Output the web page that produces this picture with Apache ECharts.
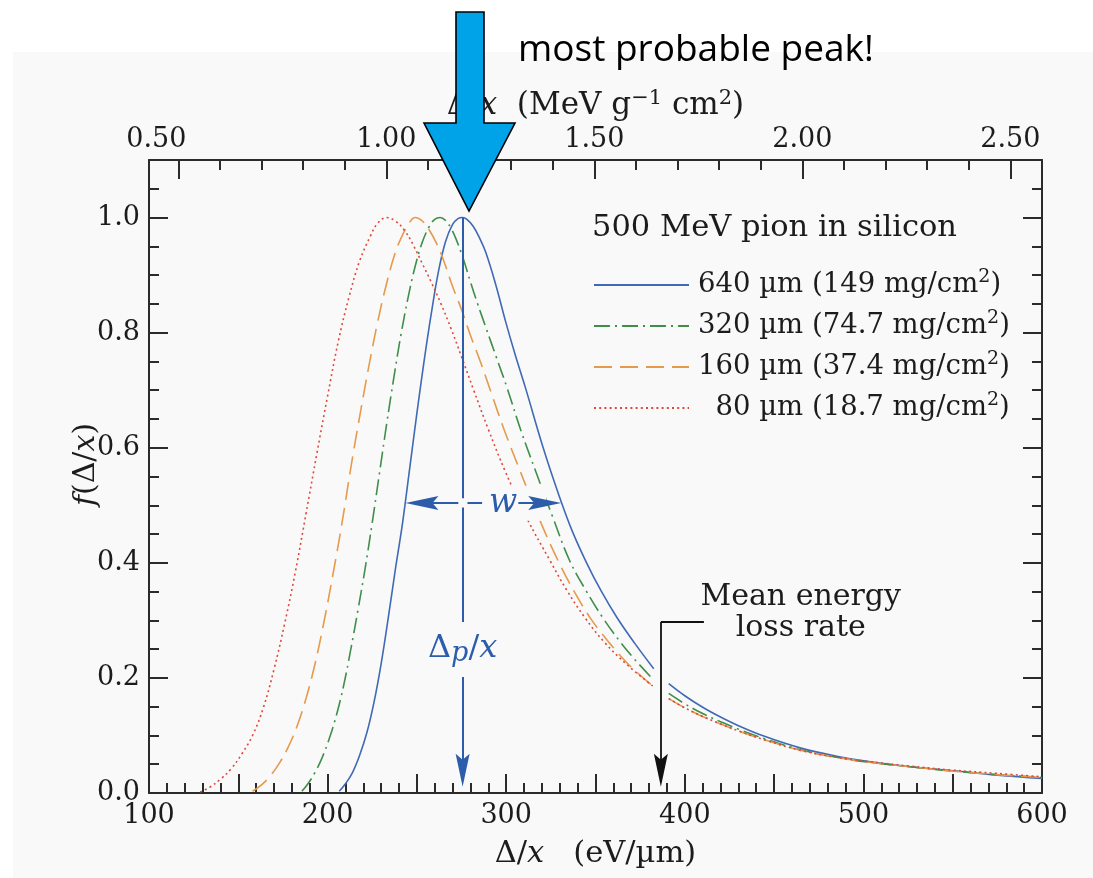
<!DOCTYPE html>
<html>
<head>
<meta charset="utf-8">
<script src="https://cdn.jsdelivr.net/npm/echarts@6/dist/echarts.min.js"></script>
<style>
html,body{margin:0;padding:0;background:#ffffff;}
#chart{width:1093px;height:878px;}
</style>
</head>
<body>
<div id="chart"></div>
<script>
// ---------------- data ----------------
// x: energy loss per unit length, eV/µm ; y: f(Δ/x), normalised to peak = 1
// null marks the break in the curves around the mean-energy-loss arrow
const seriesNames = ['640 µm (149 mg/cm²)', '320 µm (74.7 mg/cm²)', '160 µm (37.4 mg/cm²)', '80 µm (18.7 mg/cm²)'];

const blueX = [206.5, 210, 214, 218, 222, 226, 230, 234, 238, 242, 246, 250, 254, 258, 262, 266, 270, 273, 275.5,
  278, 281.5, 285, 288.5, 294, 299.6, 305, 310.8, 320.7, 329.8, 337, 345, 353, 362, 372, 382.6, 386.6,
  391, 400, 410, 420, 430, 445, 465, 485, 502, 525, 549, 575, 600];
const blueY = [0.003, 0.016, 0.036, 0.066, 0.105, 0.158, 0.225, 0.305, 0.39, 0.47, 0.565, 0.66, 0.75, 0.832, 0.905, 0.958, 0.988, 0.998, 1.0,
  0.997, 0.985, 0.965, 0.94, 0.885, 0.82, 0.762, 0.704, 0.60, 0.515, 0.455, 0.40, 0.352, 0.305, 0.26, 0.216, null,
  0.19, 0.169, 0.149, 0.132, 0.117, 0.098, 0.078, 0.064, 0.055, 0.046, 0.039, 0.031, 0.0254];

const greenX = [185.6, 189, 193, 197, 201, 205, 209, 213, 217, 221, 225, 229, 233, 237, 241, 245, 249, 253, 257, 260, 263,
  266, 269, 272, 276, 280, 284, 288.5, 294.5, 300.5, 308, 316.4, 326, 335.5, 345, 354, 363, 372, 381.8, 386.6,
  391, 400, 410, 420, 430, 445, 465, 485, 502, 525, 549, 575, 600];
const greenY = [0.003, 0.016, 0.036, 0.062, 0.095, 0.136, 0.187, 0.25, 0.318, 0.39, 0.47, 0.555, 0.64, 0.72, 0.795, 0.86, 0.915, 0.957, 0.985, 0.997, 1.0,
  0.995, 0.982, 0.962, 0.928, 0.888, 0.85, 0.81, 0.757, 0.704, 0.632, 0.56, 0.48, 0.404, 0.35, 0.305, 0.266, 0.232, 0.199, null,
  0.173, 0.155, 0.138, 0.124, 0.111, 0.094, 0.075, 0.062, 0.054, 0.046, 0.0385, 0.032, 0.027];

const orangeX = [158, 163, 168, 173, 178, 183, 188, 193, 198, 203, 208, 213, 218, 223, 228, 233, 238, 242, 246, 249,
  253, 257, 261, 265, 270, 275, 280, 285.5, 291.1, 299, 308, 318, 329, 339, 348, 358, 368, 382, 386.6,
  391, 400, 410, 420, 430, 445, 465, 485, 502, 525, 549, 575, 600];
const orangeY = [0.003, 0.014, 0.03, 0.052, 0.08, 0.117, 0.165, 0.225, 0.298, 0.38, 0.468, 0.565, 0.655, 0.74, 0.818, 0.885, 0.94, 0.97, 0.992, 1.0,
  0.994, 0.978, 0.955, 0.925, 0.88, 0.84, 0.795, 0.75, 0.70, 0.63, 0.558, 0.48, 0.404, 0.345, 0.30, 0.26, 0.225, 0.186, null,
  0.164, 0.148, 0.133, 0.12, 0.108, 0.092, 0.074, 0.062, 0.054, 0.046, 0.0385, 0.032, 0.027];

const redX = [128.6, 134, 140, 146, 152, 158, 164, 170, 176, 182, 188, 194, 200, 206, 212, 218, 224, 228, 233,
  238, 243, 248, 253, 258, 263.5, 269, 275, 281.8, 290, 299.6, 312, 324.5, 334, 344, 355, 368, 382, 386.6,
  391, 400, 410, 420, 430, 445, 465, 485, 502, 525, 549, 575, 600];
const redY = [0.002, 0.01, 0.024, 0.042, 0.068, 0.1, 0.148, 0.215, 0.295, 0.385, 0.487, 0.59, 0.69, 0.785, 0.862, 0.925, 0.968, 0.99, 1.0,
  0.994, 0.978, 0.952, 0.92, 0.888, 0.85, 0.808, 0.758, 0.70, 0.632, 0.558, 0.475, 0.404, 0.352, 0.305, 0.262, 0.222, 0.186, null,
  0.164, 0.148, 0.133, 0.12, 0.108, 0.092, 0.074, 0.062, 0.055, 0.047, 0.040, 0.034, 0.0283];

// axis ticks / labels
const bottomLabels = [100, 200, 300, 400, 500, 600];
const yMajorTicks = [0, 0.2, 0.4, 0.6, 0.8, 1.0];
const yMinorTicks = [0.05, 0.1, 0.15, 0.25, 0.3, 0.35, 0.45, 0.5, 0.55, 0.65, 0.7, 0.75, 0.85, 0.9, 0.95, 1.05];
const topMajorTicks = [0.5, 1.0, 1.5, 2.0, 2.5];
const topMinorTicks = [0.6, 0.7, 0.8, 0.9, 1.1, 1.2, 1.3, 1.4, 1.6, 1.7, 1.8, 1.9, 2.1, 2.2, 2.3, 2.4];

// annotation values
const eVperUmPerMeVcm2g = 232.9;   // silicon: 1 MeV g^-1 cm^2 = 232.9 eV/µm
const mostProbable = 275.6;        // Δp/x of the 640 µm curve
const meanLoss = 386.6;            // mean energy loss rate
const halfMaxLevel = 0.504;
const fwhmLeft = 243.6, fwhmRight = 330.8;

// ---------------- styling ----------------
const serif = 'DejaVu Serif';
const ink = '#1c1c1c';
const axisInk = '#2b2b2b';
const annBlue = '#2d5cab';
const colors = ['#4069b6', '#3f8f4a', '#e59a4c', '#e0483a'];
const dashes = ['solid', [16, 5, 2, 5], [18, 8], [2, 3.2]];
const plotBg = '#f9f9f9';

// pixel -> data conversions for arrow heads
const pxPerX = 893 / 500, pxPerY = 633 / 1.1;
const headLen = 33;
const arrowPath = 'path://M7,0 L14,33 L7,27 L0,33 Z';

function pairs(xs, ys) { return xs.map((x, i) => [x, ys[i]]); }
const curveX = [blueX, greenX, orangeX, redX];
const curveY = [blueY, greenY, orangeY, redY];

const chart = echarts.init(document.getElementById('chart'), null, {renderer: 'canvas'});

const tickLine = {color: axisInk, width: 2};
const labelStyle = {fontFamily: serif, fontSize: 27, color: ink};

const curveSeries = seriesNames.map((name, i) => ({
  type: 'line', name: name, xAxisIndex: 0, yAxisIndex: 0,
  data: pairs(curveX[i], curveY[i]),
  symbol: 'none', showSymbol: false, smooth: 0.4,
  connectNulls: false, silent: true, z: 2,
  lineStyle: {color: colors[i], width: 1.6, type: dashes[i]},
  itemStyle: {color: colors[i]}
}));

const hx = headLen / 2 / pxPerX, hy = headLen / 2 / pxPerY;
const arrowEnd = (coord) => ({coord: coord, symbol: arrowPath, symbolSize: headLen, symbolKeepAspect: true});

const option = {
  animation: false,
  backgroundColor: '#ffffff',
  textStyle: {fontFamily: serif},
  grid: {left: 149, right: 51, top: 160, bottom: 85, outerBoundsMode: 'none', containLabel: false},
  title: {
    text: '500 MeV pion in silicon', left: 592, top: 213, padding: 0,
    textStyle: {fontFamily: serif, fontSize: 30.5, fontWeight: 'normal', color: ink}
  },
  legend: {
    orient: 'vertical', left: 593, top: 268, padding: 0, itemWidth: 95, itemHeight: 20, itemGap: 7,
    data: seriesNames, selectedMode: false,
    itemStyle: {color: 'rgba(0,0,0,0)', borderColor: 'rgba(0,0,0,0)', borderWidth: 0, opacity: 0},
    formatter: function (name) {
      const pad = name.indexOf('80 ') === 0 ? '  ' : '';
      const parts = name.split('²');
      return '{f|' + pad + parts[0] + '}{s|2}{t|' + parts[1] + '}';
    },
    textStyle: {
      fontFamily: serif, fontSize: 27.5, color: ink, lineHeight: 34,
      rich: {
        f: {fontFamily: serif, fontSize: 27.5, color: ink, lineHeight: 34, padding: [0, 0, 0, 4]},
        t: {fontFamily: serif, fontSize: 27.5, color: ink, lineHeight: 34},
        s: {fontFamily: serif, fontSize: 19, color: ink, lineHeight: 20, verticalAlign: 'top'}
      }
    }
  },
  xAxis: [
    {
      type: 'value', position: 'bottom', min: 100, max: 600, interval: 50,
      name: '{d|Δ/}{i|x}{d|   (eV/µm)}', nameLocation: 'middle', nameGap: 46, nameMoveOverlap: false,
      nameTextStyle: {rich: {
        d: {fontFamily: serif, fontSize: 30.5, color: ink},
        i: {fontFamily: serif, fontSize: 30.5, fontStyle: 'italic', color: ink}
      }},
      axisLine: {show: true, onZero: false, lineStyle: tickLine},
      axisTick: {show: true, inside: true, length: 19, lineStyle: tickLine},
      minorTick: {show: true, splitNumber: 5, length: 10, lineStyle: tickLine},
      axisLabel: Object.assign({customValues: bottomLabels, margin: 9}, labelStyle),
      splitLine: {show: false}, minorSplitLine: {show: false}
    },
    {
      type: 'value', position: 'top', min: 100 / eVperUmPerMeVcm2g, max: 600 / eVperUmPerMeVcm2g,
      name: '{d|Δ/}{i|x}{d|  (MeV g}{s|−1}{d| cm}{s|2}{d|)}', nameLocation: 'middle', nameGap: 36, nameMoveOverlap: false,
      nameTextStyle: {rich: {
        d: {fontFamily: serif, fontSize: 31, color: ink, lineHeight: 36},
        i: {fontFamily: serif, fontSize: 31, fontStyle: 'italic', color: ink, lineHeight: 36},
        s: {fontFamily: serif, fontSize: 21, color: ink, lineHeight: 20, verticalAlign: 'top'}
      }},
      axisLine: {show: true, onZero: false, lineStyle: tickLine},
      axisTick: {show: true, inside: true, length: 19, customValues: topMajorTicks, lineStyle: tickLine},
      axisLabel: Object.assign({
        customValues: topMajorTicks, margin: 7,
        formatter: v => (v === topMajorTicks[0] ? '{first|' + v.toFixed(2) + '}' : v.toFixed(2)),
        rich: {first: {fontFamily: serif, fontSize: 27, color: ink, padding: [0, 44, 0, 0]}}
      }, labelStyle),
      splitLine: {show: false}
    },
    {
      type: 'value', position: 'top', min: 100 / eVperUmPerMeVcm2g, max: 600 / eVperUmPerMeVcm2g,
      axisLine: {show: false, onZero: false},
      axisTick: {show: true, inside: true, length: 10, customValues: topMinorTicks, lineStyle: tickLine},
      axisLabel: {show: false}, splitLine: {show: false}
    }
  ],
  yAxis: [
    {
      type: 'value', position: 'left', min: 0, max: 1.1,
      name: '{i|f}{d|(Δ/}{i|x}{d|)}', nameLocation: 'middle', nameGap: 48, nameMoveOverlap: false,
      nameTextStyle: {padding: [0, 0, 0, 24], rich: {
        d: {fontFamily: serif, fontSize: 30, color: ink},
        i: {fontFamily: serif, fontSize: 30, fontStyle: 'italic', color: ink}
      }},
      axisLine: {show: true, onZero: false, lineStyle: tickLine},
      axisTick: {show: true, inside: true, length: 19, customValues: yMajorTicks, lineStyle: tickLine},
      axisLabel: Object.assign({customValues: yMajorTicks, margin: 9, formatter: v => v.toFixed(1)}, labelStyle),
      splitLine: {show: false}
    },
    {
      type: 'value', position: 'left', min: 0, max: 1.1,
      axisLine: {show: false, onZero: false},
      axisTick: {show: true, inside: true, length: 10, customValues: yMinorTicks, lineStyle: tickLine},
      axisLabel: {show: false}, splitLine: {show: false}
    },
    {
      type: 'value', position: 'right', min: 0, max: 1.1,
      axisLine: {show: true, onZero: false, lineStyle: tickLine},
      axisTick: {show: true, inside: true, length: 19, customValues: yMajorTicks, lineStyle: tickLine},
      axisLabel: {show: false}, splitLine: {show: false}
    },
    {
      type: 'value', position: 'right', min: 0, max: 1.1,
      axisLine: {show: false, onZero: false},
      axisTick: {show: true, inside: true, length: 10, customValues: yMinorTicks, lineStyle: tickLine},
      axisLabel: {show: false}, splitLine: {show: false}
    }
  ],
  graphic: [
    {type: 'rect', z: -10, silent: true, shape: {x: 13, y: 52, width: 1080, height: 826}, style: {fill: plotBg}},
    {type: 'text', z: 100, silent: true, style: {text: 'most probable peak!', x: 518, y: 50, fontFamily: 'Open Sans', fontSize: 37, fill: '#000', verticalAlign: 'middle', align: 'left'}},
    {type: 'polygon', z: 100, silent: true,
      shape: {points: [[456, 12], [484, 12], [484, 123], [515, 123], [469, 211], [424, 123], [456, 123]]},
      style: {fill: '#00a2e8', stroke: '#000', lineWidth: 1.6}}
  ],
  series: curveSeries.concat([
    { // halo behind the w label (breaks the thin curves like the original)
      type: 'line', name: 'halo', data: [], xAxisIndex: 0, yAxisIndex: 0, silent: true,
      markPoint: {
        z: 3, silent: true, animation: false,
        data: [{coord: [308.8, 0.5035], symbol: 'rect', symbolSize: [49, 35], itemStyle: {color: plotBg}, label: {show: false}}]
      }
    },
    { // blue annotations: Δp/x and w
      type: 'line', name: 'annBlue', data: [], xAxisIndex: 0, yAxisIndex: 0, silent: true,
      markLine: {
        z: 5, silent: true, animation: false, symbol: ['none', 'none'], symbolKeepAspect: true,
        label: {show: false},
        lineStyle: {color: annBlue, width: 2, type: 'solid'},
        emphasis: {disabled: true},
        data: [
          [{coord: [mostProbable, 1.0]}, {coord: [mostProbable, 0.512]}],
          [{coord: [mostProbable, 0.496]}, {coord: [mostProbable, 0.297]}],
          [{coord: [mostProbable, 0.2016]}, arrowEnd([mostProbable, 0.011 + hy])],
          [arrowEnd([fwhmLeft + hx, halfMaxLevel]), {coord: [mostProbable - 2.4, halfMaxLevel]}],
          [{coord: [mostProbable + 2.7, halfMaxLevel]}, {coord: [286.5, halfMaxLevel]}],
          [{coord: [306.8, halfMaxLevel]}, arrowEnd([fwhmRight - hx, halfMaxLevel])]
        ]
      },
      markPoint: {
        z: 6, silent: true, animation: false,
        data: [
          {coord: [298.3, halfMaxLevel], symbol: 'rect', symbolSize: 1, itemStyle: {color: 'rgba(0,0,0,0)'},
            label: {show: true, position: 'inside', formatter: 'w', fontFamily: serif, fontStyle: 'italic', fontSize: 33, color: annBlue}},
          {coord: [mostProbable, 0.251], symbol: 'rect', symbolSize: 1, itemStyle: {color: 'rgba(0,0,0,0)'},
            label: {show: true, position: 'inside', formatter: '{a|Δ}{b|p}{a|/}{c|x}',
              rich: {
                a: {fontFamily: serif, fontSize: 32, color: annBlue},
                b: {fontFamily: serif, fontSize: 27, fontStyle: 'italic', color: annBlue, padding: [11, 0, 0, 0]},
                c: {fontFamily: serif, fontSize: 32, fontStyle: 'italic', color: annBlue}
              }}}
        ]
      }
    },
    { // black annotation: mean energy loss rate
      type: 'line', name: 'annMean', data: [], xAxisIndex: 0, yAxisIndex: 0, silent: true,
      markLine: {
        z: 5, silent: true, animation: false, symbol: ['none', 'none'], symbolKeepAspect: true,
        label: {show: false},
        lineStyle: {color: '#111', width: 1.8, type: 'solid'},
        emphasis: {disabled: true},
        data: [
          [{coord: [410.7, 0.297]}, {coord: [meanLoss, 0.297]}],
          [{coord: [meanLoss, 0.297]}, arrowEnd([meanLoss, 0.011 + hy])]
        ]
      },
      markPoint: {
        z: 6, silent: true, animation: false,
        data: [
          {coord: [464.9, 0.3137], symbol: 'rect', symbolSize: 1, itemStyle: {color: 'rgba(0,0,0,0)'},
            label: {show: true, position: 'inside', formatter: 'Mean energy\nloss rate', fontFamily: serif, fontSize: 30, lineHeight: 31, color: ink, align: 'center'}}
        ]
      }
    }
  ])
};

chart.setOption(option);
</script>
</body>
</html>
